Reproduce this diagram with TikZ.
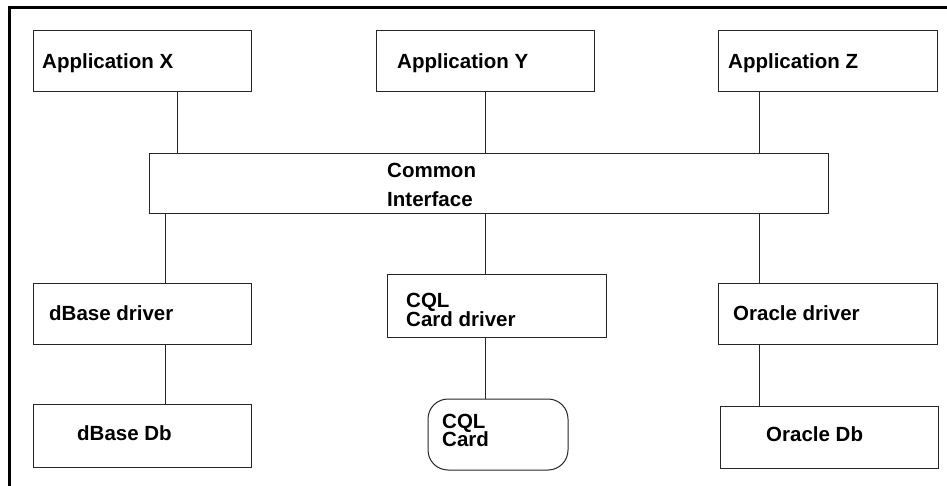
\documentclass[tikz,border=0pt]{standalone}
\usepackage{fontspec}
\setmainfont{Liberation Sans}
\begin{document}
\begin{tikzpicture}[x=1pt,y=-1pt,
  box/.style={draw=black!85,line width=1pt,inner sep=0pt,outer sep=0pt,anchor=north west},
  lbl/.style={anchor=base west,inner sep=0pt,font=\fontsize{20.5}{20}\selectfont\bfseries},
  conn/.style={draw=black!85,line width=1pt}]
\useasboundingbox (0,0) rectangle (947,486);
% outer frame (clipped at right and bottom)
\draw[line width=2.5pt] (9.5,486) -- (9.5,7.5) -- (947,7.5);
% boxes
\node[box,minimum width=218pt,minimum height=61pt] (appx) at (33,31) {};
\node[box,minimum width=218pt,minimum height=61pt] (appy) at (376,31) {};
\node[box,minimum width=219pt,minimum height=61pt] (appz) at (718,31) {};
\node[box,minimum width=679pt,minimum height=60pt] (ci) at (149,154) {};
\node[box,minimum width=218pt,minimum height=61pt] (dbd) at (33,283) {};
\node[box,minimum width=218pt,minimum height=63pt] (dbdb) at (33,404) {};
\node[box,minimum width=219pt,minimum height=63pt] (cqld) at (387,274) {};
\node[box,minimum width=140pt,minimum height=71pt,rounded corners=20pt] (card) at (428,399) {};
\node[box,minimum width=219pt,minimum height=61pt] (ord) at (718,283) {};
\node[box,minimum width=218pt,minimum height=62pt] (ordb) at (720,406) {};
% texts
\node[lbl] (tappx) at (42,68.5) {Application X};
\node[lbl] (tappy) at (397,68.5) {Application Y};
\node[lbl] (tappz) at (728,68.5) {Application Z};
\node[lbl] (tci1) at (387,178) {Common};
\node[lbl] (tci2) at (387,207) {Interface};
\node[lbl] (tdbd) at (49,320) {dBase driver};
\node[lbl] (tdbdb) at (77,440) {dBase Db};
\node[lbl,text depth=0pt] (tcqld1) at (406,307) {CQL};
\node[lbl] (tcqld2) at (406,326) {Card driver};
\node[lbl,text depth=0pt] (tcard1) at (442,428) {CQL};
\node[lbl] (tcard2) at (442,446.5) {Card};
\node[lbl] (tord) at (733,320) {Oracle driver};
\node[lbl] (tordb) at (766,441) {Oracle Db};
% connector x positions
\coordinate (cx1) at (177,0);
\coordinate (cy) at (485,0);
\coordinate (cz) at (759,0);
\coordinate (cd) at (165,0);
% connectors
\draw[conn] (appx.south -| cx1) -- (ci.north -| cx1);
\draw[conn] (appy.south -| cy) -- (ci.north -| cy);
\draw[conn] (appz.south -| cz) -- (ci.north -| cz);
\draw[conn] (ci.south -| cd) -- (dbd.north -| cd);
\draw[conn] (ci.south -| cy) -- (cqld.north -| cy);
\draw[conn] (ci.south -| cz) -- (ord.north -| cz);
\draw[conn] (dbd.south -| cd) -- (dbdb.north -| cd);
\draw[conn] (cqld.south -| cy) -- (card.north -| cy);
\draw[conn] (ord.south -| cz) -- (ordb.north -| cz);
\end{tikzpicture}
\end{document}
